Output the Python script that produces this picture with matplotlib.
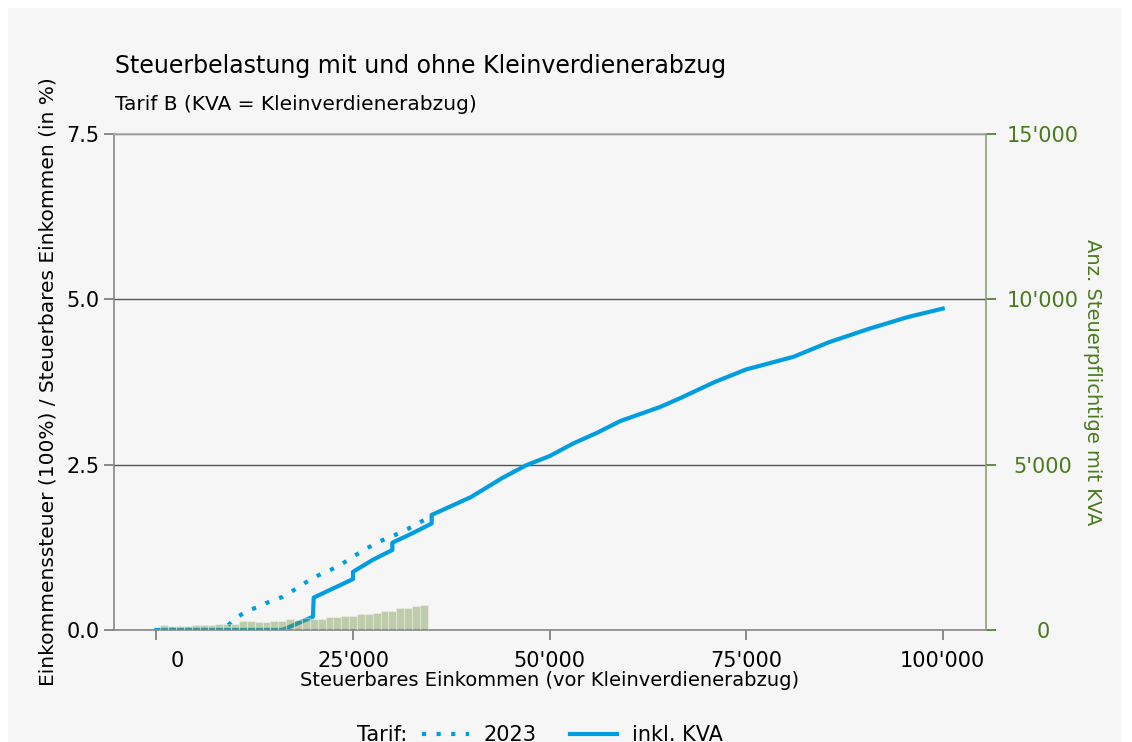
import matplotlib
matplotlib.use("Agg")
import matplotlib.pyplot as plt
from matplotlib.patches import Rectangle
from matplotlib.ticker import FuncFormatter
from matplotlib.transforms import ScaledTranslation

# --- data ---
# Tarif 2023 (dotted), burden in % of taxable income
x_2023 = [0, 8000, 9000, 10000, 11000, 12000, 13000, 14000, 15000, 16000, 17000,
          18000, 19000, 20000, 21000, 22000, 23000, 24000, 25000, 26000, 27000,
          28000, 29000, 30000, 31000, 32000, 33000, 34000, 35000]
y_2023 = [0, 0, 0.06, 0.17, 0.25, 0.31, 0.35, 0.41, 0.45, 0.50, 0.57,
          0.64, 0.72, 0.79, 0.85, 0.90, 0.96, 1.03, 1.11, 1.18, 1.25,
          1.32, 1.37, 1.42, 1.47, 1.53, 1.60, 1.66, 1.73]

# inkl. KVA (solid)
x_kva = [0, 16000, 19900, 20000, 25000, 25000, 27500, 30000, 30000, 32500, 35000,
         35000, 40000, 44000, 47000, 50000, 53000, 56000, 59000, 64000, 66500,
         71000, 75000, 81000, 85500, 90500, 95500, 100000]
y_kva = [0, 0, 0.20, 0.49, 0.77, 0.88, 1.06, 1.21, 1.32, 1.46, 1.61,
         1.74, 2.01, 2.30, 2.49, 2.63, 2.82, 2.98, 3.16, 3.37, 3.50,
         3.75, 3.94, 4.13, 4.35, 4.55, 4.73, 4.86]

# number of taxpayers with KVA per 1'000 bin
bin_centers = list(range(1000, 35000, 1000))
n_taxpayers = [141, 121, 131, 121, 141, 141, 151, 171, 181, 171,
               262, 262, 252, 252, 262, 262, 323, 302, 353, 343,
               343, 393, 393, 413, 433, 494, 494, 514, 575, 585,
               665, 665, 726, 746]

BLUE = "#009ee0"
GREEN = "#4a7a1e"
BG = "#f6f6f6"


def swiss(v, pos=None):
    return f"{int(round(v)):,}".replace(",", "'")


plt.rcParams["font.family"] = "DejaVu Sans"

fig = plt.figure(figsize=(11.32, 7.42), dpi=100)
fig.patch.set_facecolor("white")
fig.patches.append(Rectangle((8 / 1132, 0), 1113 / 1132, 1 - 8 / 742,
                             transform=fig.transFigure, facecolor=BG,
                             edgecolor="none", zorder=-10))

ax = fig.add_axes([114 / 1132, 112 / 742, 872 / 1132, 496 / 742])
ax.set_facecolor(BG)

ax.plot(x_2023, y_2023, color=BLUE, lw=3, linestyle=(0, (1, 2.5)),
        label="2023")
ax.plot(x_kva, y_kva, color=BLUE, lw=3, label="inkl. KVA",
        solid_joinstyle="round")

ax.set_xlim(-5400, 105500)
ax.set_ylim(0, 7.5)
ax.set_xticks([0, 25000, 50000, 75000, 100000])
ax.xaxis.set_major_formatter(FuncFormatter(swiss))
ax.set_yticks([0, 2.5, 5.0, 7.5])
ax.yaxis.set_major_formatter(FuncFormatter(lambda v, p: f"{v:.1f}"))
ax.grid(axis="y", color="#555555", lw=1)
ax.set_axisbelow(True)
ax.tick_params(axis="both", labelsize=15, color="#777777", length=7, width=1.2)
ax.tick_params(axis="x", pad=8)
for s in ["left", "bottom"]:
    ax.spines[s].set_color("#888888")
    ax.spines[s].set_linewidth(1.2)
ax.spines["top"].set_color("#aaaaaa")
ax.spines["top"].set_linewidth(1.2)
ax.spines["right"].set_visible(False)
ax.set_xlabel("Steuerbares Einkommen (vor Kleinverdienerabzug)", fontsize=14,
              labelpad=0)
ax.set_ylabel("Einkommenssteuer (100%) / Steuerbares Einkommen (in %)",
              fontsize=14.5, labelpad=6)

ax2 = ax.twinx()
ax2.bar(bin_centers, n_taxpayers, width=1000, color="#6b8e39", alpha=0.4,
        edgecolor=BG, linewidth=0.8)
ax2.set_ylim(0, 15000)
ax2.set_yticks([0, 5000, 10000, 15000])
ax2.yaxis.set_major_formatter(FuncFormatter(swiss))
ax2.tick_params(axis="y", labelsize=15, colors=GREEN, length=7, width=1.2,
                pad=34)
for lbl in ax2.get_yticklabels():
    lbl.set_horizontalalignment("center")
ax2.spines["right"].set_color("#8aa07a")
ax2.spines["right"].set_linewidth(1.2)
for s in ["left", "top", "bottom"]:
    ax2.spines[s].set_visible(False)
ax2.set_ylabel("Anz. Steuerpflichtige mit KVA", color=GREEN, fontsize=14,
               rotation=-90, labelpad=-4, va="center")
ax2.yaxis.set_label_coords(1.122, 0.5)

# the "0" label sits a bit right of its tick in the reference
zero_lbl = ax.xaxis.get_major_ticks()[0].label1
zero_lbl.set_transform(zero_lbl.get_transform()
                       + ScaledTranslation(0.21, 0, fig.dpi_scale_trans))

fig.text(115 / 1132, 1 - 66 / 742, "Steuerbelastung mit und ohne Kleinverdienerabzug",
         fontsize=17, va="center", ha="left")
fig.text(115 / 1132, 1 - 104 / 742, "Tarif B (KVA = Kleinverdienerabzug)",
         fontsize=14.5, va="center", ha="left")

fig.text(357 / 1132, 1 - 735 / 742, "Tarif:", fontsize=15, va="center", ha="left")
handles, labels = ax.get_legend_handles_labels()
fig.legend(handles, labels, loc="center left", ncol=2, frameon=False,
           fontsize=15, bbox_to_anchor=(422 / 1132, 1 - 735 / 742),
           handlelength=2.25, columnspacing=1.6, handletextpad=0.72,
           borderaxespad=0, borderpad=0)

fig.savefig("out.png", dpi=100, facecolor=fig.get_facecolor())
